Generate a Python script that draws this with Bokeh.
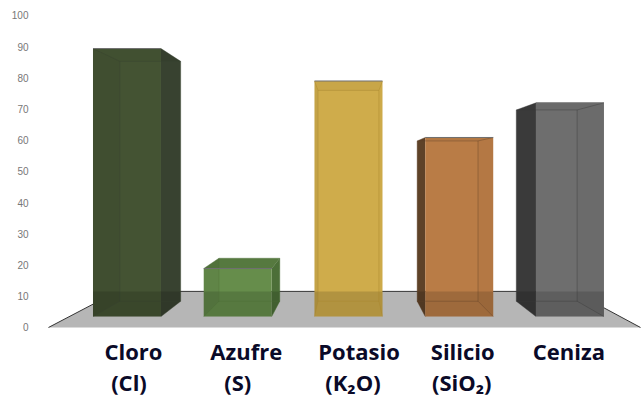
from bokeh.embed import file_html
from bokeh.models import ColumnDataSource, FixedTicker, Range1d
from bokeh.plotting import figure
from bokeh.resources import INLINE
from bokeh.core.properties import value

# Composition of the material, one bar per component
names = ["Cloro", "Azufre", "Potasio", "Silicio", "Ceniza"]
formulas = ["(Cl)", "(S)", "(K₂O)", "(SiO₂)", ""]
values = [89.4, 18.9, 79.0, 60.9, 72.0]
ticks = [0, 10, 20, 30, 40, 50, 60, 70, 80, 90, 100]

# Bar colours: main tone, exposed side tone, top tone
face_colors = ["#445333", "#668d4b", "#cfac4b", "#b97c46", "#6e6e6e"]
side_colors = ["#384230", "#4c6f38", "#a8852e", "#5e4228", "#3a3a3a"]
top_colors = ["#38472a", "#56793f", "#c9a748", "#b1733e", "#5c5c5c"]

# Nudges of the two label rows, in pixels
name_dx = [6.5, 8.5, 10.5, 3.5, -1]
formula_dx = [2, 0, 4.5, 2.5, 0]

# Simple one-point perspective shared by every bar and the floor
VANISH_X, VANISH_Y = 2.0, 50.3
BAR_DEPTH, FLOOR_DEPTH = 0.895, 0.77
BASE = 3.5
HALF_WIDTH = 0.307
FLOOR_LEFT, FLOOR_RIGHT = -0.709, 4.637


def project(x, y, depth):
    return VANISH_X + (x - VANISH_X) * depth, VANISH_Y + (y - VANISH_Y) * depth


p = figure(width=641, height=397, output_backend="svg", toolbar_location=None,
           x_range=Range1d(-0.781, 4.646), y_range=Range1d(-22.44, 104.8),
           x_axis_location=None, min_border=0, min_border_left=40,
           outline_line_color=None, background_fill_color="white",
           border_fill_color="white")
p.grid.visible = False
p.yaxis.ticker = FixedTicker(ticks=ticks)
p.yaxis.axis_line_color = None
p.yaxis.major_tick_line_color = None
p.yaxis.minor_tick_line_color = None
p.yaxis.major_label_standoff = 6
p.yaxis.major_label_text_font = "Liberation Sans"
p.yaxis.major_label_text_font_size = "10px"
p.yaxis.major_label_text_color = "#777777"

# Floor with its dark rear and side edges
bl = project(FLOOR_LEFT, 0, FLOOR_DEPTH)
br = project(FLOOR_RIGHT, 0, FLOOR_DEPTH)
p.patch([FLOOR_LEFT, FLOOR_RIGHT, br[0], bl[0]], [0, 0, br[1], bl[1]],
        fill_color="#b6b6b6", line_color=None)
p.line([FLOOR_LEFT, bl[0], br[0], FLOOR_RIGHT], [0, bl[1], br[1], 0],
       line_color="#333333", line_width=1)


def add_face(xs, ys, color, alpha):
    p.patch(xs, ys, fill_color=color, fill_alpha=alpha, line_color=None)


for i, v in enumerate(values):
    x0, x1 = i - HALF_WIDTH, i + HALF_WIDTH
    bx0, by0 = project(x0, BASE, BAR_DEPTH)
    bx1, _ = project(x1, BASE, BAR_DEPTH)
    _, ty = project(x0, v, BAR_DEPTH)
    face, side, top = face_colors[i], side_colors[i], top_colors[i]

    # Faces that stick out from behind the front
    if bx0 < x0:
        add_face([x0, bx0, bx0, x0], [BASE, by0, ty, v], side, 1)
    if bx1 > x1:
        add_face([x1, bx1, bx1, x1], [BASE, by0, ty, v], side, 1)
    if ty > v:
        add_face([x0, x1, bx1, bx0], [v, v, ty, ty], top, 1)
    add_face([x0, x1, x1, x0], [BASE, BASE, v, v], face, 1)

    # Faces seen through the front tint it slightly
    if bx0 > x0:
        add_face([x0, bx0, bx0, x0], [BASE, by0, ty, v], "#000000", 0.05)
    if bx1 < x1:
        add_face([x1, bx1, bx1, x1], [BASE, by0, ty, v], side, 0.05)
    if ty < v:
        add_face([x0, x1, bx1, bx0], [v, v, ty, ty], "#000000", 0.03)

    # The floor behind the bar darkens its lower part
    band_x = [x0, x1]
    band_y = [BASE, BASE]
    if bx1 > x1:
        band_x += [bx1, bx1]
        band_y += [by0, bl[1]]
    else:
        band_x += [x1]
        band_y += [bl[1]]
    if bx0 < x0:
        band_x += [bx0, bx0]
        band_y += [bl[1], by0]
    else:
        band_x += [x0]
        band_y += [bl[1]]
    add_face(band_x, band_y, "#000000", 0.14)

    # Inner edges of the box and a thin grey rim on top
    edge = dict(line_color=side, line_alpha=0.4, line_width=1)
    p.line([x0, bx0, bx0], [v, ty, by0], **edge)
    p.line([bx0, bx1, bx1], [ty, ty, by0], **edge)
    p.line([x1, bx1], [v, ty], **edge)
    p.line([x0, bx0, bx1, x1], [BASE, by0, by0, BASE], **edge)
    p.line([x0, x1], [v, v], line_color="#6f6f6f", line_width=1)

label_font = value("Open Sans")
names_src = ColumnDataSource(dict(x=list(range(5)), y=[-7.4] * 5, t=names, dx=name_dx))
p.text("x", "y", text="t", x_offset="dx", source=names_src, text_font=label_font,
       text_font_style="bold", text_font_size="22px", text_color="#0a0a28",
       text_align="center", text_baseline="alphabetic")
formula_src = ColumnDataSource(dict(x=list(range(5)), y=[-17.6] * 5, t=formulas, dx=formula_dx))
p.text("x", "y", text="t", x_offset="dx", source=formula_src, text_font=label_font,
       text_font_style="bold", text_font_size="22px", text_color="#0a0a28",
       text_align="center", text_baseline="alphabetic")

open("out.html", "w").write(file_html(p, INLINE))
